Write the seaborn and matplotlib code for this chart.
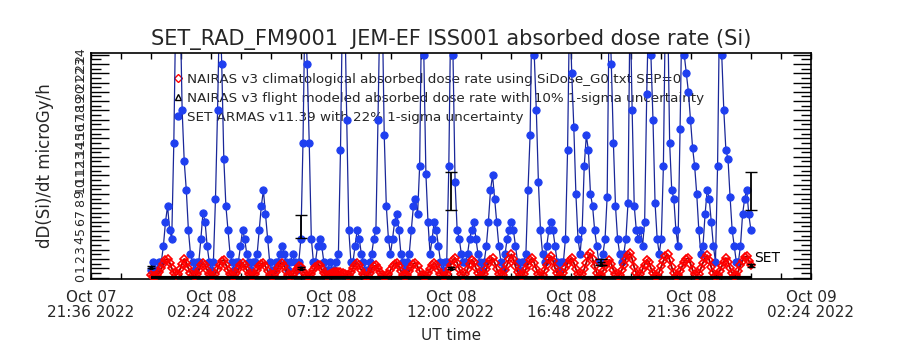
import matplotlib
matplotlib.use("Agg")
import matplotlib.pyplot as plt
import matplotlib.dates as mdates
from matplotlib.lines import Line2D
import seaborn as sns
import pandas as pd

# 5-minute samples, Oct 08 00:00 UT .. Oct 09 00:00 UT
start_time = "2022-10-08 00:00"
n_samples = 289

# NAIRAS v3 climatological absorbed dose rate (microGy/h)
nairas_clim = [
    0.3, 0.2, 0.2, 0.3, 0.6, 1.0, 1.5, 1.9, 2.0, 1.6, 1.0, 0.5,
    0.3, 0.4, 0.9, 1.5, 2.0, 1.6, 1.0, 0.5, 0.25, 0.2, 0.4, 0.8,
    1.3, 1.6, 1.3, 0.8, 0.4, 0.2, 0.2, 0.4, 0.9, 1.4, 1.8, 1.9,
    1.4, 0.8, 0.4, 0.2, 0.2, 0.5, 0.9, 1.3, 1.6, 1.3, 0.8, 0.4,
    0.2, 0.2, 0.4, 0.8, 1.2, 1.5, 1.6, 1.2, 0.7, 0.3, 0.2, 0.3,
    0.6, 1.0, 1.4, 1.6, 1.2, 0.7, 0.3, 0.2, 0.3, 0.6, 0.9, 1.2,
    1.1, 0.7, 0.4, 0.2, 0.2, 0.4, 0.8, 1.1, 1.4, 1.3, 0.9, 0.5,
    0.3, 0.3, 0.4, 0.5, 0.6, 0.6, 0.6, 0.6, 0.5, 0.4, 0.3, 0.3,
    0.6, 1.0, 1.4, 1.6, 1.3, 0.8, 0.4, 0.2, 0.2, 0.5, 0.9, 1.2,
    1.3, 1.0, 0.6, 0.3, 0.2, 0.2, 0.4, 0.8, 1.2, 1.5, 1.6, 1.2,
    0.7, 0.3, 0.2, 0.3, 0.7, 1.1, 1.5, 1.6, 1.2, 0.7, 0.3, 0.2,
    0.2, 0.5, 0.9, 1.3, 1.6, 1.3, 0.8, 0.4, 0.2, 0.2, 0.4, 0.9,
    1.4, 1.9, 2.1, 1.6, 0.9, 0.4, 0.2, 0.4, 0.9, 1.5, 1.9, 1.7,
    1.0, 0.5, 0.2, 0.2, 0.4, 0.9, 1.5, 1.9, 2.1, 1.6, 0.9, 0.4,
    0.2, 0.3, 0.8, 1.4, 2.0, 2.5, 2.0, 1.2, 0.6, 0.3, 0.2, 0.4,
    0.9, 1.4, 1.9, 2.1, 1.6, 0.9, 0.4, 0.2, 0.3, 0.8, 1.4, 2.0,
    2.3, 1.8, 1.0, 0.5, 0.2, 0.2, 0.5, 1.0, 1.5, 1.9, 2.1, 1.6,
    0.9, 0.4, 0.2, 0.4, 0.9, 1.6, 2.3, 2.6, 2.0, 1.2, 0.5, 0.2,
    0.3, 0.7, 1.2, 1.6, 1.9, 1.5, 0.8, 0.4, 0.2, 0.3, 0.8, 1.4,
    2.0, 2.4, 2.6, 2.0, 1.1, 0.5, 0.2, 0.4, 0.9, 1.4, 1.9, 1.7,
    1.0, 0.5, 0.2, 0.2, 0.6, 1.2, 1.8, 2.3, 2.5, 1.9, 1.1, 0.5,
    0.2, 0.3, 0.7, 1.2, 1.7, 2.0, 2.1, 1.5, 0.8, 0.4, 0.2, 0.4,
    1.0, 1.6, 2.1, 2.4, 1.9, 1.1, 0.5, 0.2, 0.3, 0.7, 1.2, 1.7,
    2.1, 1.7, 1.0, 0.5, 0.2, 0.3, 0.7, 1.3, 1.8, 2.2, 2.3, 1.8,
    1.4,
]

# SET ARMAS v11.39 absorbed dose rate (microGy/h), values > 24 run off the top
set_dose = [
    0.85, 1.7, 0.85, 0.85, 1.7, 1.7, 3.4, 6.0, 7.7, 5.1, 4.2, 14.5,
    30, 30, 30, 18.0, 12.5, 9.4, 5.1, 2.55, 1.7, 0.85, 1.7, 1.7,
    4.2, 7.0, 6.0, 3.4, 1.7, 0.85, 1.7, 8.5, 18.0, 30, 23.0, 12.8,
    7.7, 5.1, 2.55, 1.7, 0.85, 1.7, 1.7, 3.4, 5.1, 4.2, 2.55, 1.7,
    0.85, 1.7, 1.7, 2.55, 5.1, 7.7, 9.4, 6.8, 4.2, 1.7, 0.85, 0.85,
    1.7, 1.7, 2.55, 3.4, 2.55, 1.7, 0.85, 1.7, 2.55, 1.7, 0.85, 1.7,
    4.2, 14.5, 30, 23.0, 14.5, 4.2, 1.7, 1.7, 3.4, 4.2, 3.4, 1.7,
    0.85, 0.85, 1.7, 0.85, 0.85, 1.7, 2.55, 13.7, 30, 30, 17.0, 5.1,
    1.7, 1.7, 3.4, 5.1, 4.2, 2.55, 1.7, 0.85, 0.85, 1.7, 2.55, 4.2,
    5.1, 17.0, 30, 30, 15.3, 7.7, 4.2, 2.55, 4.2, 6.0, 6.8, 5.1,
    2.55, 1.7, 0.85, 1.7, 2.55, 5.1, 7.7, 8.5, 6.8, 12.0, 30, 24.0,
    11.2, 6.0, 2.55, 4.2, 6.0, 5.1, 3.4, 1.7, 0.85, 1.7, 1.7, 12.0,
    30, 24.0, 10.3, 5.1, 4.2, 2.55, 1.7, 1.7, 2.55, 4.2, 5.1, 6.0,
    4.2, 2.55, 1.7, 0.85, 1.7, 3.4, 6.0, 9.4, 11.0, 8.5, 6.0, 3.4,
    1.7, 0.85, 2.55, 4.2, 5.1, 6.0, 5.1, 3.4, 1.7, 0.85, 1.7, 1.7,
    2.55, 9.4, 15.3, 30, 24.0, 18.0, 10.3, 5.1, 2.55, 1.7, 3.4, 5.1,
    6.0, 5.1, 3.4, 1.7, 0.85, 1.7, 1.7, 4.2, 13.7, 30, 22.0, 16.2,
    9.0, 4.2, 2.55, 5.1, 12.0, 15.3, 13.7, 9.0, 7.7, 5.1, 3.4, 1.7,
    1.7, 2.55, 4.2, 8.7, 30, 23.0, 14.5, 7.7, 4.2, 2.55, 1.7, 2.55,
    4.2, 8.0, 30, 18.0, 7.7, 5.1, 4.2, 5.1, 3.4, 6.0, 19.8, 30,
    24.0, 17.0, 8.0, 4.2, 2.55, 4.2, 12.0, 30, 30, 14.5, 9.4, 8.5,
    5.1, 3.4, 16.0, 30, 24.0, 22.0, 20.0, 17.0, 14.0, 12.0, 9.0, 5.1,
    2.55, 3.4, 6.8, 9.4, 8.5, 6.0, 3.4, 1.7, 12.0, 30, 24.0, 18.0,
    13.7, 12.8, 8.7, 5.1, 3.4, 1.7, 1.7, 3.4, 6.8, 8.5, 9.4, 6.8,
    5.1,
]

# 6-hourly comparison points
flight_times = ["2022-10-08 00:00", "2022-10-08 06:00", "2022-10-08 12:00",
                "2022-10-08 18:00", "2022-10-09 00:00"]
flight_dose = [1.1, 1.0, 1.0, 1.5, 1.3]
flight_sigma = 0.10

set_avg_times = ["2022-10-08 06:00", "2022-10-08 12:00", "2022-10-08 18:00",
                 "2022-10-09 00:00"]
set_avg_dose = [5.5, 9.35, 1.67, 9.35]
set_sigma = 0.22

x_tick_times = pd.date_range("2022-10-07 21:36", periods=7, freq="288min")
x_minor_times = pd.date_range("2022-10-07 21:36", periods=25, freq="72min")
y_ticks = list(range(0, 25))

legend_labels = [
    "NAIRAS v3 climatological absorbed dose rate using SiDose_G0.txt SEP=0",
    "NAIRAS v3 flight modeled absorbed dose rate with 10% 1-sigma uncertainty",
    "SET ARMAS v11.39 with 22% 1-sigma uncertainty",
]

times = pd.date_range(start_time, periods=n_samples, freq="5min")
df = pd.DataFrame({"time": times, "nairas": nairas_clim, "set": set_dose})

sns.set_theme(style="white")
plt.rcParams["font.family"] = ["DejaVu Sans"]

fig = plt.figure(figsize=(9, 3.5), dpi=100)
ax = fig.add_axes([0.101, 0.203, 0.800, 0.646])

BLUE_LINE = "#1a2799"
BLUE_DOT = "#1f3ff0"
RED = "#ff0000"

sns.lineplot(data=df, x="time", y="set", ax=ax, color=BLUE_LINE, lw=0.9,
             marker="o", markersize=5.2, markerfacecolor=BLUE_DOT,
             markeredgecolor=BLUE_DOT, zorder=2)
sns.lineplot(data=df, x="time", y="nairas", ax=ax, color="#b00000", lw=1.4,
             marker="D", markersize=4.3, markerfacecolor="none",
             markeredgecolor=RED, markeredgewidth=1.2, zorder=3)

# flight modeled baseline drawn along zero
ax.hlines(0, times[0], times[-1], color="black", lw=3, zorder=4)

ft = pd.to_datetime(flight_times)
ax.errorbar(ft, flight_dose, yerr=[v * flight_sigma for v in flight_dose],
            fmt="^", ms=2.5, color="black", mfc="none", capsize=3, lw=1, zorder=5)
st = pd.to_datetime(set_avg_times)
ax.errorbar(st, set_avg_dose, yerr=[v * set_sigma for v in set_avg_dose],
            fmt="none", ecolor="black", capsize=4, lw=1.3, zorder=5)

ax.annotate("SET", xy=(times[-1], nairas_clim[-1]), xytext=(2, 5),
            textcoords="offset points", fontsize=10, color="black",
            va="center", ha="left")

ax.set_xlim(x_tick_times[0], x_tick_times[-1])
ax.set_ylim(-0.15, 24.2)

ax.set_xticks(x_tick_times)
ax.set_xticks(x_minor_times, minor=True)
ax.xaxis.set_major_formatter(mdates.DateFormatter("%b %d\n%H:%M %Y"))
ax.set_yticks(y_ticks)
ax.set_yticks([v + 0.5 for v in y_ticks[:-1]], minor=True)
ax.set_yticklabels([str(v) for v in y_ticks], rotation=90, va="center")

ax.tick_params(axis="x", which="both", direction="in", top=True, bottom=True,
               length=4, width=1, color="black", labelsize=11, pad=8)
ax.tick_params(axis="y", which="major", direction="in", left=True, right=True,
               length=13, width=1, color="black", labelsize=9, pad=3)
ax.tick_params(axis="y", which="minor", direction="in", left=True, right=True,
               length=7, width=1, color="black")
for lbl in ax.get_xticklabels():
    lbl.set_linespacing(1.0)

for sp in ax.spines.values():
    sp.set_color("black")
    sp.set_linewidth(1.2)

ax.set_xlabel("UT time", fontsize=11, labelpad=6)
ax.set_ylabel("dD(Si)/dt microGy/h", fontsize=12, labelpad=14)
ax.set_title("SET_RAD_FM9001  JEM-EF ISS001 absorbed dose rate (Si)",
             fontsize=15, pad=6)

handles = [
    Line2D([], [], ls="none", marker="D", ms=4, mfc="none", mec=RED, mew=1),
    Line2D([], [], ls="none", marker="^", ms=5, mfc="none", mec="black", mew=1),
    Line2D([], [], ls="none", marker="o", ms=5, mfc=BLUE_DOT, mec=BLUE_DOT),
]
leg = ax.legend(handles, legend_labels, loc="upper left",
                bbox_to_anchor=(0.116, 0.91), frameon=False, fontsize=9.7,
                handlelength=0.6, handletextpad=0.3, labelspacing=0.42,
                borderaxespad=0, borderpad=0)
leg.set_zorder(1)

fig.savefig("out.png", dpi=100, facecolor="white")
